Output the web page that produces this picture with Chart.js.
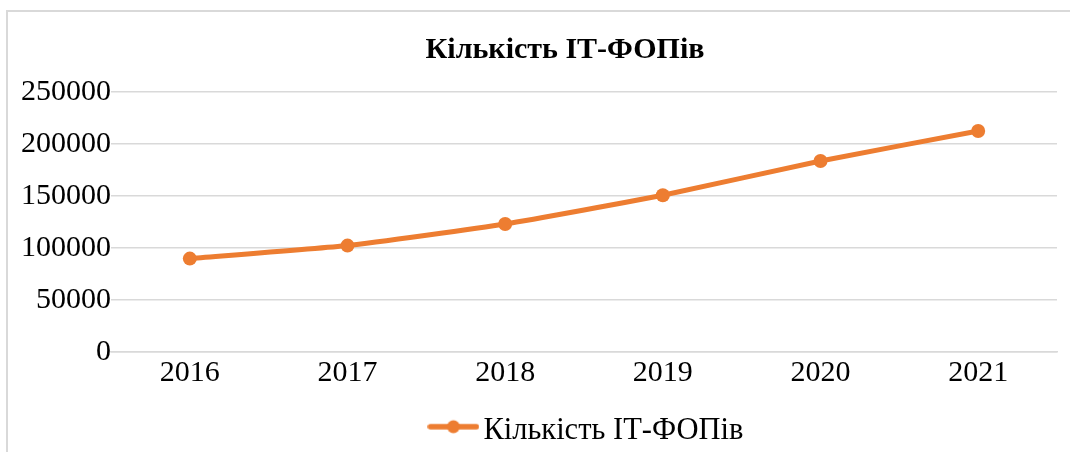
<!DOCTYPE html>
<html>
<head>
<meta charset="utf-8">
<script src="https://cdn.jsdelivr.net/npm/chart.js@4/dist/chart.umd.min.js"></script>
<style>
  html, body { margin: 0; padding: 0; background: #fff; overflow: hidden; }
  #frame { position: absolute; left: 6px; top: 10px; width: 1100px; height: 480px;
           border-left: 2px solid #D9D9D9; border-top: 2px solid #D9D9D9; box-sizing: border-box; }
  #wrap { position: absolute; left: 0; top: 0; width: 1070px; height: 452px; }
</style>
</head>
<body>
<div id="frame"></div>
<div id="wrap"><canvas id="c" width="1070" height="452"></canvas></div>
<script>
const title = "Кількість ІТ-ФОПів";
const seriesName = "Кількість ІТ-ФОПів";
const years = ["2016", "2017", "2018", "2019", "2020", "2021"];
const counts = [89800, 102300, 123100, 150700, 183700, 212500];
const yTicks = [0, 50000, 100000, 150000, 200000, 250000];

const ORANGE = "#ED7D31";
const FONT = "'Liberation Serif', 'Times New Roman', serif";

// legend symbol: line with a circle marker
const sym = document.createElement("canvas");
sym.width = 52; sym.height = 24;
(function () {
  const g = sym.getContext("2d");
  g.strokeStyle = ORANGE; g.lineWidth = 5.5; g.lineCap = "round";
  g.beginPath(); g.moveTo(3, 8); g.lineTo(49, 8); g.stroke();
  g.fillStyle = ORANGE; g.beginPath(); g.arc(26, 8, 6.5, 0, Math.PI * 2); g.fill();
})();

// shift title/legend boxes (their centres in the original sit right of the canvas centre)
const boxShift = {
  id: "boxShift",
  afterLayout(chart) {
    if (chart.titleBlock) { chart.titleBlock.left = 73; }
    if (chart.legend) { chart.legend.left = 125; chart.legend.top += 4; }
  }
};

new Chart(document.getElementById("c"), {
  type: "line",
  data: {
    labels: years,
    datasets: [{
      label: seriesName,
      data: counts,
      borderColor: ORANGE,
      backgroundColor: ORANGE,
      borderWidth: 5,
      pointStyle: "circle",
      pointRadius: 7,
      pointHoverRadius: 7,
      pointBackgroundColor: ORANGE,
      pointBorderWidth: 0,
      tension: 0.15
    }]
  },
  plugins: [boxShift],
  options: {
    responsive: false,
    animation: false,
    layout: { padding: { left: 0, right: 13, top: 0, bottom: 0 } },
    plugins: {
      title: {
        display: true,
        text: title,
        color: "#000",
        font: { family: FONT, size: 30, weight: "bold", lineHeight: 1.2 },
        padding: { top: 32, bottom: 24 }
      },
      legend: {
        display: true,
        position: "bottom",
        labels: {
          color: "#000",
          font: { family: FONT, size: 30.5, lineHeight: 1 },
          usePointStyle: true,
          pointStyleWidth: 29.5,
          boxHeight: 16,
          padding: 2,
          generateLabels: () => [{
            text: seriesName, fontColor: "#000", pointStyle: sym,
            fillStyle: ORANGE, strokeStyle: ORANGE, lineWidth: 0, datasetIndex: 0, hidden: false
          }]
        }
      },
      tooltip: { enabled: false }
    },
    scales: {
      x: {
        offset: true,
        afterFit: (s) => { s.height = 57.5; },
        grid: { display: false, drawTicks: false },
        border: { display: true, color: "#D9D9D9", width: 1.5 },
        ticks: { color: "#000", font: { family: FONT, size: 30, lineHeight: 1.2 }, padding: 3 }
      },
      y: {
        min: 0, max: 250000,
        afterFit: (s) => { s.width = 111; },
        afterBuildTicks: (s) => { s.ticks = yTicks.map(v => ({ value: v })); },
        grid: { color: "#D9D9D9", lineWidth: 1.5, drawTicks: false },
        border: { display: false },
        ticks: { color: "#000", font: { family: FONT, size: 30 }, padding: 0,
                 callback: (v) => String(v) }
      }
    }
  }
});
</script>
</body>
</html>
